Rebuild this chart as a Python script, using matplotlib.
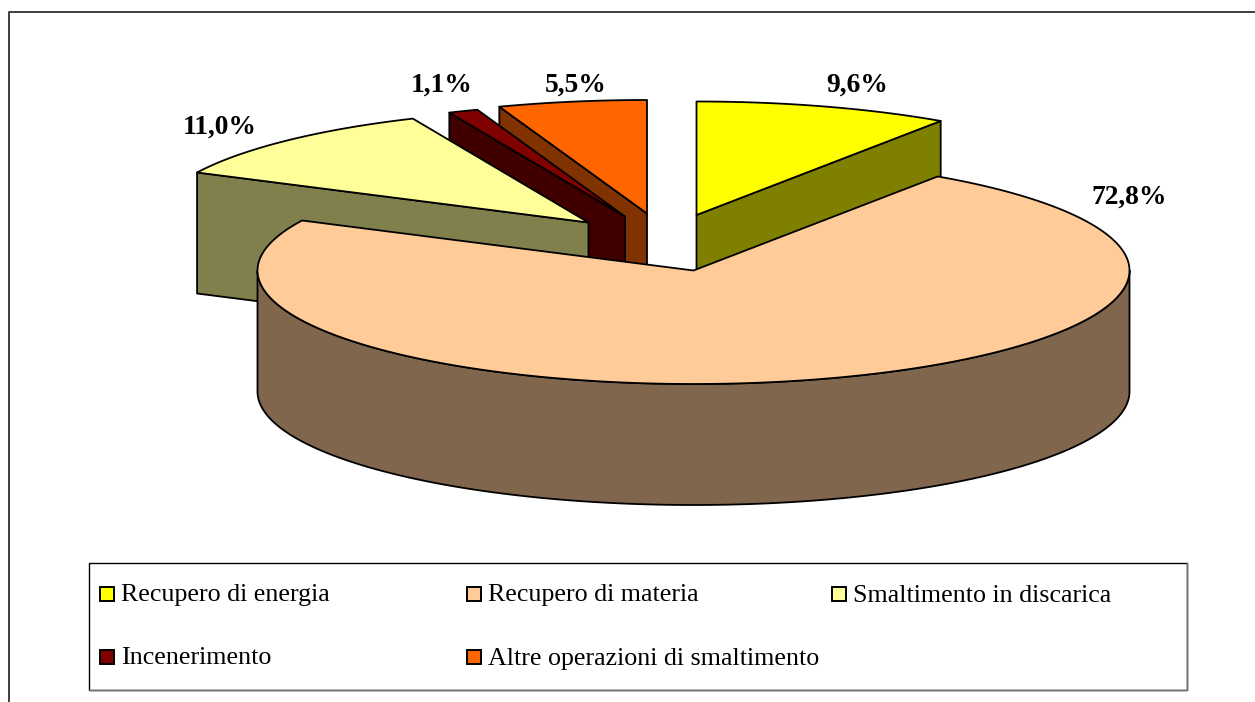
import numpy as np
import matplotlib
matplotlib.use("Agg")
import matplotlib.pyplot as plt
from matplotlib.patches import Polygon, Rectangle

labels = ["Recupero di energia", "Recupero di materia", "Smaltimento in discarica",
          "Incenerimento", "Altre operazioni di smaltimento"]
shares = [9.6, 72.8, 11.0, 1.1, 5.5]
value_labels = ["9,6%", "72,8%", "11,0%", "1,1%", "5,5%"]

top_colors = ["#FFFF00", "#FFCC99", "#FFFF99", "#800000", "#FF6600"]
side_colors = ["#808000", "#80664D", "#80804D", "#400000", "#803300"]

# apex of each exploded slice, in pixels
apexes = [(696.5, 215), (693.5, 270.5), (588.5, 222.5), (625, 216.5), (647, 213.5)]
label_pos = [(857, 85), (1129, 197), (220, 127), (442, 85), (576, 85)]
legend_pos = [(100, 594), (467, 594), (832, 594), (100, 657), (467, 657)]

RX, RY, DEPTH = 436, 113.5, 121


def rim(a0, a1):
    # angles clockwise from 12 o'clock, in degrees
    t = np.radians(np.linspace(a0, a1, 200))
    return RX * np.sin(t), -RY * np.cos(t)


plt.rcParams["font.family"] = ["Liberation Serif", "DejaVu Serif"]
fig = plt.figure(figsize=(12.55, 7.02), dpi=100)
ax = fig.add_axes([0, 0, 1, 1])
ax.set_xlim(0, 1255)
ax.set_ylim(702, 0)
ax.axis("off")

# chart frame, cut off by the page on the right and at the bottom
ax.plot([9, 9, 1255], [702, 11.5, 11.5], color="#303030", lw=1.3)

angles = np.cumsum([0] + shares) * 3.6
angles[1:3] -= 0.5  # the original's projection is a touch rotated here

# back slices first, biggest slice last
for i in [4, 3, 2, 0, 1]:
    cx, cy = apexes[i]
    a0, a1 = angles[i], angles[i + 1]
    xr, yr = rim(a0, a1)
    xr, yr = xr + cx, yr + cy
    edge = dict(edgecolor="black", lw=1.3, joinstyle="round")

    # the one cut face that looks at the viewer
    if a1 - a0 < 180:
        k = -1 if a1 <= 180 else 0
        pts = [(cx, cy), (xr[k], yr[k]), (xr[k], yr[k] + DEPTH), (cx, cy + DEPTH)]
        ax.add_patch(Polygon(pts, closed=True, facecolor=side_colors[i], **edge))

    # outer wall, only the part facing the viewer
    lo, hi = max(a0, 90), min(a1, 270)
    if hi > lo:
        xw, yw = rim(lo, hi)
        xw, yw = xw + cx, yw + cy
        pts = np.r_[np.c_[xw, yw], np.c_[xw, yw + DEPTH][::-1]]
        ax.add_patch(Polygon(pts, closed=True, facecolor=side_colors[i], **edge))

    pts = np.r_[[(cx, cy)], np.c_[xr, yr]]
    ax.add_patch(Polygon(pts, closed=True, facecolor=top_colors[i], **edge))

for (x, y), txt in zip(label_pos, value_labels):
    ax.text(x, y, txt, fontsize=19.8, fontweight="bold", ha="center", va="center", color="black")

# legend box with a soft shadow on the right and bottom
ax.add_patch(Rectangle((89, 563), 1098, 127, facecolor="white", edgecolor="black", lw=1.0))
ax.plot([89, 1187, 1187], [690, 690, 563], color="#707070", lw=1.0)
for (x, y), txt, col in zip(legend_pos, labels, top_colors):
    ax.add_patch(Rectangle((x, y - 7), 14, 14, facecolor=col, edgecolor="black", lw=1.4))
    ax.text(x + 21, y + 1.5, txt, fontsize=18.7, ha="left", va="center", color="black")

fig.savefig("out.png", dpi=100)
